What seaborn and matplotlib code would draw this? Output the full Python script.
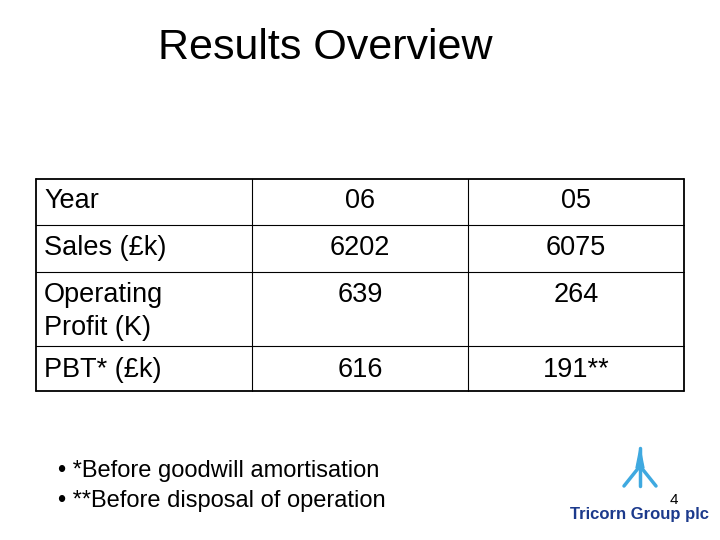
import matplotlib
matplotlib.use("Agg")
import matplotlib.pyplot as plt
import seaborn as sns

sns.set_theme(style="white")
plt.rcParams['font.family'] = ['Liberation Sans', 'DejaVu Sans']
plt.rcParams['text.color'] = 'black'

title = "Results Overview"
row_labels = ["Year", "Sales (£k)", "Operating\nProfit (K)", "PBT* (£k)"]
col_06 = ["06", "6202", "639", "616"]
col_05 = ["05", "6075", "264", "191**"]
notes = ["• *Before goodwill amortisation", "• **Before disposal of operation"]

fig = plt.figure(figsize=(7.2, 5.4), dpi=100)
ax = fig.add_axes([0, 0, 1, 1])
ax.set_xlim(0, 720); ax.set_ylim(540, 0); ax.axis("off")

ax.text(325, 48, title, fontsize=31, ha="center", va="center", color="black")

xs = [36, 252, 468, 684]
ys = [179, 225, 272, 346, 391]
for y in ys:
    ax.plot([xs[0], xs[-1]], [y, y], color="black", lw=1.3 if y in (ys[0], ys[-1]) else 0.8)
for x in xs:
    ax.plot([x, x], [ys[0], ys[-1]], color="black", lw=1.3 if x in (xs[0], xs[-1]) else 0.8)

fs = 19.5
yc = [201, 248, 295, 370]
for i in range(4):
    if i == 2:
        ax.text(44, 295, "Operating", fontsize=fs, va="center", ha="left")
        ax.text(44, 328, "Profit (K)", fontsize=fs, va="center", ha="left")
    else:
        ax.text(44, yc[i], row_labels[i], fontsize=fs, va="center", ha="left")
    ax.text(360, yc[i], col_06[i], fontsize=fs, va="center", ha="center")
    ax.text(576, yc[i], col_05[i], fontsize=fs, va="center", ha="center")

ax.text(58, 471, notes[0], fontsize=17, va="center", ha="left")
ax.text(58, 501, notes[1], fontsize=17, va="center", ha="left")

# logo
c = "#3fa9e0"
ax.plot([640, 640], [448, 486], color=c, lw=2.5)
ax.plot([624, 640, 656], [486, 466, 486], color=c, lw=2.5)
ax.fill([636, 640, 644], [468, 448, 468], color=c)
t = ax.text(640, 514, "Tricorn Group plc", fontsize=12, fontweight="bold", color="#1c3a8c",
            ha="center", va="center")
ax.text(674, 500, "4", fontsize=11, ha="center", va="center")

fig.savefig("out.png", dpi=100)
